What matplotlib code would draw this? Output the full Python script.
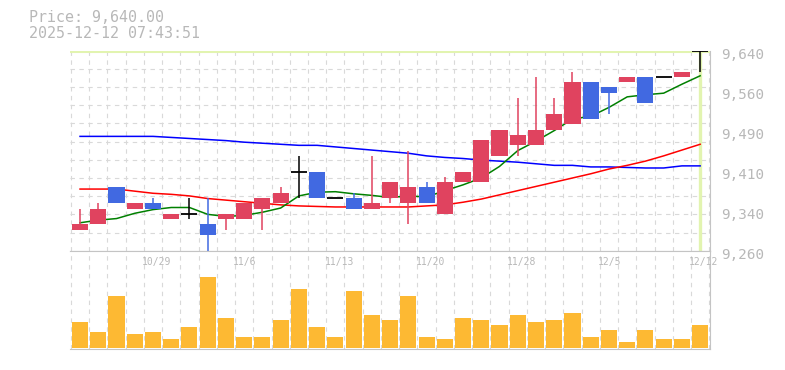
import numpy as np
import matplotlib
matplotlib.use("Agg")
import matplotlib.pyplot as plt
from matplotlib.transforms import ScaledTranslation

# daily prices (yen), 10/23 .. 12/12
opens  = [9300, 9310, 9380, 9340, 9350, 9320, 9330, 9310, 9320, 9320, 9340, 9350,
          9410, 9410, 9360, 9360, 9340, 9360, 9350, 9380, 9330, 9390, 9390, 9440,
          9460, 9460, 9490, 9500, 9580, 9570, 9580, 9590, 9590, 9590, 9640]
highs  = [9340, 9350, 9380, 9350, 9360, 9330, 9360, 9360, 9330, 9350, 9360, 9380,
          9440, 9410, 9360, 9370, 9440, 9390, 9450, 9390, 9400, 9410, 9470, 9490,
          9550, 9590, 9550, 9600, 9580, 9570, 9590, 9590, 9590, 9600, 9640]
lows   = [9300, 9310, 9350, 9340, 9340, 9320, 9320, 9260, 9300, 9320, 9300, 9350,
          9360, 9360, 9360, 9340, 9340, 9350, 9310, 9350, 9330, 9390, 9390, 9440,
          9440, 9460, 9490, 9500, 9510, 9520, 9580, 9540, 9590, 9590, 9600]
closes = [9310, 9340, 9350, 9350, 9340, 9330, 9330, 9290, 9330, 9350, 9360, 9370,
          9410, 9360, 9360, 9340, 9350, 9390, 9380, 9350, 9390, 9410, 9470, 9490,
          9480, 9490, 9520, 9580, 9510, 9560, 9590, 9540, 9590, 9600, 9640]
volumes = [26, 16, 52, 14, 16, 9, 21, 71, 30, 11, 11, 28, 59, 21, 11, 57, 33, 28,
           52, 11, 9, 30, 28, 23, 33, 26, 28, 35, 11, 18, 6, 18, 9, 9, 23]

# moving averages
ma5  = [9313, 9318, 9321, 9331, 9338, 9342, 9342, 9329, 9325, 9327, 9333, 9341,
        9364, 9371, 9372, 9368, 9365, 9361, 9364, 9362, 9374, 9385, 9398, 9420,
        9450, 9468, 9488, 9510, 9515, 9532, 9552, 9556, 9559, 9576, 9592]
ma25 = [9377, 9377, 9377, 9373, 9369, 9367, 9364, 9359, 9356, 9353, 9350, 9347,
        9345, 9344, 9343, 9343, 9343, 9343, 9343, 9345, 9347, 9352, 9358, 9366,
        9374, 9382, 9390, 9398, 9406, 9415, 9422, 9430, 9440, 9451, 9462]
ma75 = [9477, 9477, 9477, 9477, 9477, 9475, 9473, 9471, 9469, 9466, 9464, 9462,
        9460, 9460, 9457, 9454, 9451, 9448, 9445, 9440, 9437, 9435, 9432, 9430,
        9428, 9425, 9422, 9422, 9419, 9419, 9418, 9417, 9417, 9421, 9421]

date_idx = [4, 9, 14, 19, 24, 29, 34]
date_labels = ["10/29", "11/6", "11/13", "11/20", "11/28", "12/5", "12/12"]
price_labels = ["9,260", "9,340", "9,410", "9,490", "9,560", "9,640"]
y_min, y_max = 9260, 9640

UP, DOWN = "#e0435f", "#4169e1"
GRID = "#d9d9d9"
FRAME = "#c4c4c4"
TXT = "#b8b8b8"
MONO = "DejaVu Sans Mono"

n = len(closes)
x = np.arange(n)
o, h, l, c = map(np.array, (opens, highs, lows, closes))

W, H = 785, 370
fig = plt.figure(figsize=(W / 100, H / 100), dpi=100)
ax = fig.add_axes([70 / W, 119.3 / H, 640 / W, 200.2 / H])
axv = fig.add_axes([70 / W, 20.7 / H, 640 / W, 98.6 / H], sharex=ax)

for a in (ax, axv):
    a.set_xlim(-0.55, 34.54)
    a.set_xticks(np.arange(-0.5, n, 1), minor=True)
    a.set_xticks([])
    a.grid(which="minor", axis="x", color=GRID, lw=0.8, ls=(0, (4, 4)))
    a.tick_params(which="both", length=0, labelbottom=False)
    a.spines["left"].set_visible(False)
    for s in ("right", "bottom", "top"):
        a.spines[s].set_color(FRAME)
    a.set_axisbelow(True)
ax.spines["top"].set_visible(False)

# price panel
ax.set_ylim(y_min, y_max)
ax.set_yticks(np.linspace(y_min, y_max, 12), minor=True)
ax.grid(which="minor", axis="y", color=GRID, lw=0.8, ls=(0, (4, 4)))
ax.yaxis.tick_right()
ax.set_yticks(np.linspace(y_min, y_max, 6))
ax.set_yticklabels(price_labels, family=MONO, fontsize=10.3, color=TXT)
ax.tick_params(axis="y", which="major", pad=8)
for t in ax.get_yticklabels():
    t.set_transform(t.get_transform() + ScaledTranslation(0, -0.028, fig.dpi_scale_trans))

# current price crosshair
ax.axhline(closes[-1], color="#e2f4b0", lw=2.2, zorder=1.5)
ax.axvline(x[-1], color="#e2f4b0", lw=2.4, zorder=1.5)

ax.plot(x, ma75, color="#0000ff", lw=1.1, zorder=2)
ax.plot(x, ma25, color="#ff0000", lw=1.1, zorder=2)
ax.plot(x, ma5, color="#008000", lw=1.1, zorder=2)

bw = 0.88
up = c > o
dn = c < o
fl = c == o
cols = np.where(up, UP, np.where(dn, DOWN, "black"))
ax.vlines(x, l, h, colors=cols, lw=1.1, zorder=3)
ax.bar(x[~fl], np.abs(c - o)[~fl], bottom=np.minimum(o, c)[~fl], width=bw,
       color=cols[~fl], zorder=4)
ax.hlines(c[fl], x[fl] - bw / 2, x[fl] + bw / 2, colors="black", lw=1.3, zorder=4)

# volume panel
axv.set_ylim(-1.5, 97)
axv.set_yticks([])
axv.bar(x, volumes, width=bw, color="#fdb933", zorder=2)
for i, lab in zip(date_idx, date_labels):
    axv.text(i - 0.6, 0.885, lab, transform=axv.get_xaxis_transform(),
             ha="left", va="center", family=MONO, fontsize=7, color=TXT)

fig.text(29 / W, 1 - 17.5 / H, "Price: 9,640.00", family=MONO, fontsize=10.8,
         color=TXT, va="center")
fig.text(29 / W, 1 - 33.5 / H, "2025-12-12 07:43:51", family=MONO, fontsize=10.8,
         color=TXT, va="center")

fig.savefig("out.png", dpi=100, facecolor="white")
